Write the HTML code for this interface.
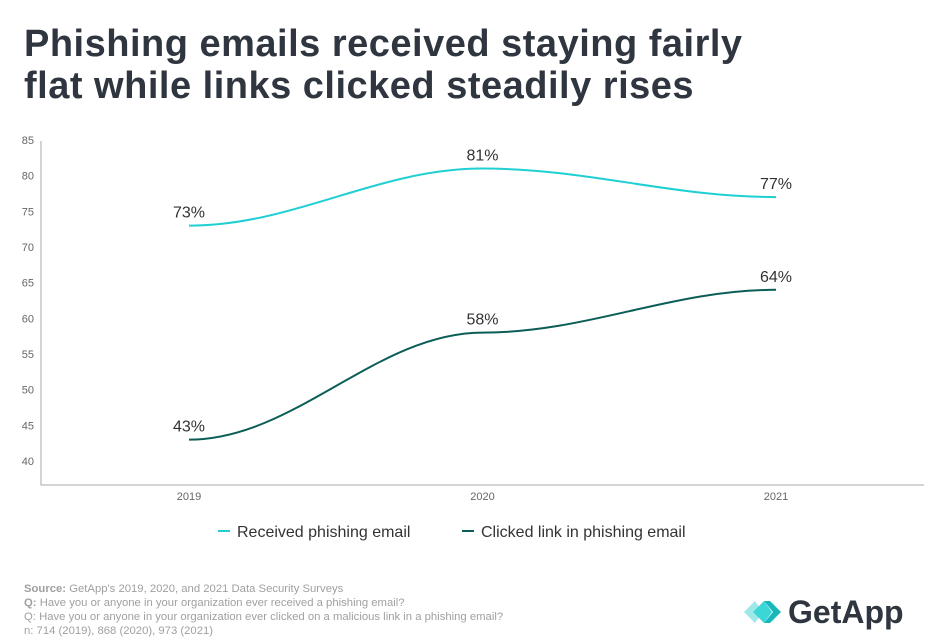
<!DOCTYPE html>
<html><head><meta charset="utf-8"><style>
body{margin:0;width:936px;height:642px;background:#fff;font-family:"Liberation Sans",sans-serif;overflow:hidden;position:relative}
h1{position:absolute;left:24px;top:23px;margin:0;font-size:38px;line-height:42px;font-weight:bold;color:#2f3640;letter-spacing:0.5px}
.foot{position:absolute;left:24px;top:582px;font-size:11.3px;line-height:14px;color:#a0a0a0}
.foot b{font-weight:bold}
.logo{position:absolute;left:744px;top:594px;font-size:32px;font-weight:bold;color:#2f3640}
</style></head><body>
<h1>Phishing emails received staying fairly<br>flat while links clicked steadily rises</h1>
<svg id="chart" width="936" height="560" style="position:absolute;left:0;top:0"></svg>
<div class="foot"><b>Source:</b> GetApp's 2019, 2020, and 2021 Data Security Surveys<br><b>Q:</b> Have you or anyone in your organization ever received a phishing email?<br>Q: Have you or anyone in your organization ever clicked on a malicious link in a phishing email?<br>n: 714 (2019), 868 (2020), 973 (2021)</div>
<div class="logo"><svg width="44" height="30" style="vertical-align:-4px"><polygon points="0,15 11,4 19,15 11,26" fill="#9ee8e8"/><polygon points="9,15 20,4 28,15 20,26" fill="#3dd6d6"/><polygon points="20,4 26,4 37,15 26,26 20,26 29,15" fill="#18b8b8"/></svg>GetApp</div>
<script>
const categories=["2019","2020","2021"];
const receivedValues=[73,81,77];
const clickedValues=[43,58,64];
const yTicks=[40,45,50,55,60,65,70,75,80,85];
const seriesNames=["Received phishing email","Clicked link in phishing email"];
const colors=["#1fcfd3","#0b5e58"];
const svg=document.getElementById('chart');
const NS='http://www.w3.org/2000/svg';
const x=i=>189+i*293.5;
const y=v=>461-(v-40)*7.133;
function mk(t,a,txt){const e=document.createElementNS(NS,t);for(const k in a)e.setAttribute(k,a[k]);if(txt!==undefined)e.textContent=txt;svg.appendChild(e);return e;}
let e=mk('path',{d:'M41,141V485H924',fill:'none',stroke:'#aaa','stroke-width':1});


yTicks.forEach(t=>{const l=mk('text',{x:34,y:y(t)+4,'text-anchor':'end','font-size':11,fill:'#666'},t);

});
categories.forEach((c,i)=>{const l=mk('text',{x:x(i),y:500,'text-anchor':'middle','font-size':11,fill:'#666'},c);

});
function bump(vals){
 let d='M'+x(0)+','+y(vals[0]);
 for(let i=0;i<vals.length-1;i++){const k=(x(i+1)-x(i))*0.36;d+=` C${x(i)+k},${y(vals[i])} ${x(i+1)-k},${y(vals[i+1])} ${x(i+1)},${y(vals[i+1])}`;}
 return d;}
[receivedValues,clickedValues].forEach((vals,si)=>{
 const p=mk('path',{d:bump(vals),fill:'none',stroke:colors[si],'stroke-width':2});
 
 
 vals.forEach((v,i)=>{const l=mk('text',{x:x(i),y:y(v)-8,'text-anchor':'middle','font-size':16,fill:'#333'},v+'%');
 
 });
});
const lx=[218,462];
seriesNames.forEach((n,i)=>{
 const ln=mk('line',{x1:lx[i],x2:lx[i]+12,y1:531,y2:531,stroke:colors[i],'stroke-width':2});
 
 
 const t=mk('text',{x:lx[i]+19,y:537,'font-size':16,fill:'#333'},n);
 
 
});
</script>
</body></html>
